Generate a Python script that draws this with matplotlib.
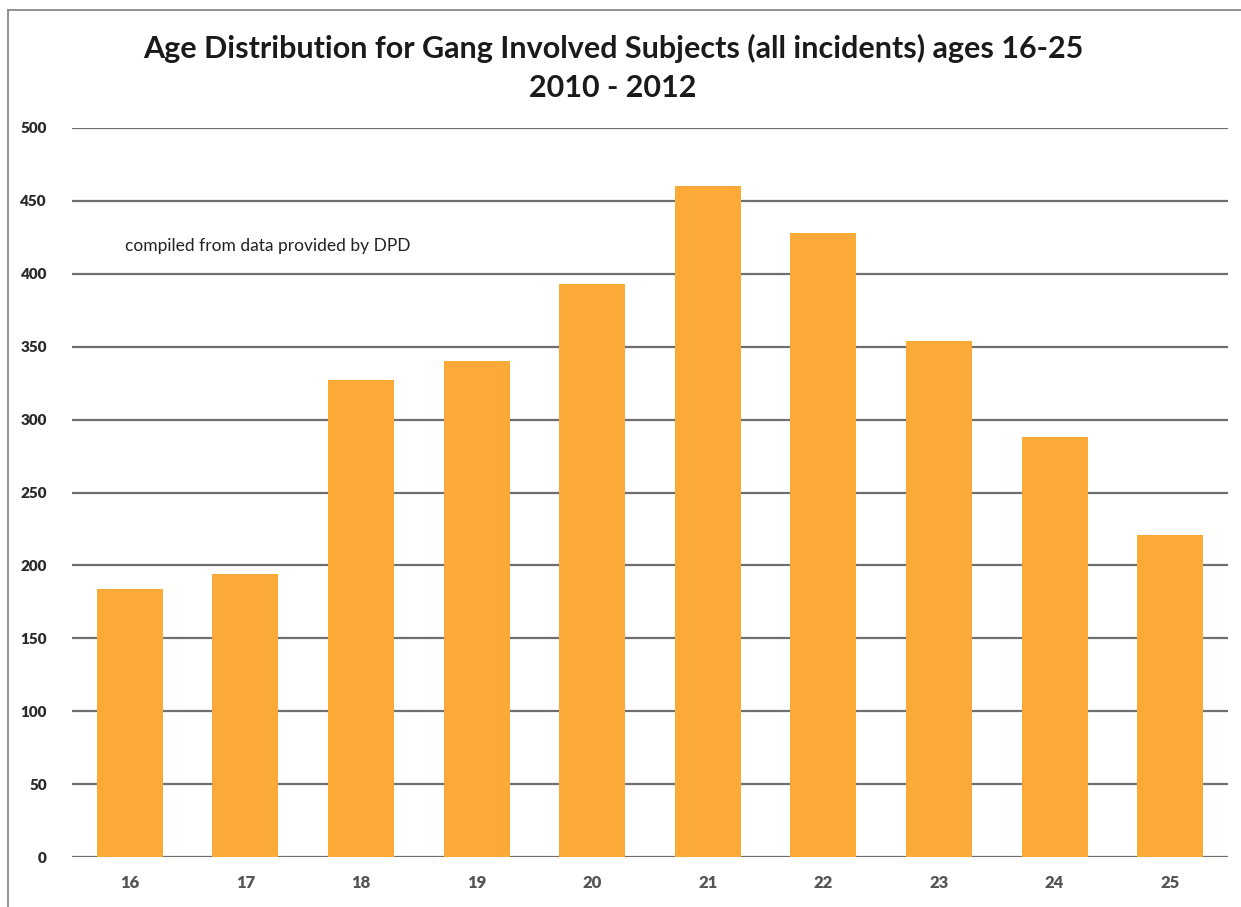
import matplotlib.pyplot as plt
from matplotlib.lines import Line2D

ages = ["16", "17", "18", "19", "20", "21", "22", "23", "24", "25"]
counts = [184, 194, 327, 340, 393, 460, 428, 354, 288, 221]
yticks = [0, 50, 100, 150, 200, 250, 300, 350, 400, 450, 500]

fig = plt.figure(figsize=(12.41, 9.07), dpi=100)
ax = fig.add_axes([0.058, 0.0551, 0.9315, 0.8038])

x = range(len(ages))
ax.bar(x, counts, width=0.57, color="#FBAA38", zorder=2)

ax.set_ylim(0, 500)
ax.set_xlim(-0.5, len(ages) - 0.5)
ax.set_yticks(yticks)
ax.set_xticks(list(x))
ax.set_xticklabels(ages)
ax.yaxis.grid(True, color="#6f6f6f", linewidth=1.6, zorder=1)
ax.set_axisbelow(True)
for s in ax.spines.values():
    s.set_visible(False)
ax.tick_params(axis="both", length=0)
ax.tick_params(axis="y", pad=18)
ax.tick_params(axis="x", pad=13)
for lab in ax.get_yticklabels():
    lab.set_fontweight("heavy")
    lab.set_fontsize(11)
    lab.set_color("#2a2a2a")
    lab.set_family("Lato")
for lab in ax.get_xticklabels():
    lab.set_fontweight("heavy")
    lab.set_fontsize(12)
    lab.set_color("#555555")
    lab.set_family("Lato")

fig.text(0.494, 0.947, "Age Distribution for Gang Involved Subjects (all incidents) ages 16-25",
         ha="center", va="center", fontsize=22, fontweight="bold", family="Lato", color="#1a1a1a")
fig.text(0.494, 0.903, "2010 - 2012", ha="center", va="center", fontsize=22,
         fontweight="bold", family="Lato", color="#1a1a1a")
fig.text(0.101, 0.729, "compiled from data provided by DPD", ha="left", va="center",
         fontsize=12.5, family="Lato", color="#222222")

# scanned frame: top and left edges only
fig.lines.append(Line2D([0.0065, 1.0], [0.989, 0.989], transform=fig.transFigure,
                        color="#8a8a8a", linewidth=1.3))
fig.lines.append(Line2D([0.0065, 0.0065], [0.0, 0.989], transform=fig.transFigure,
                        color="#8a8a8a", linewidth=1.3))

fig.savefig("out.png", dpi=100)
